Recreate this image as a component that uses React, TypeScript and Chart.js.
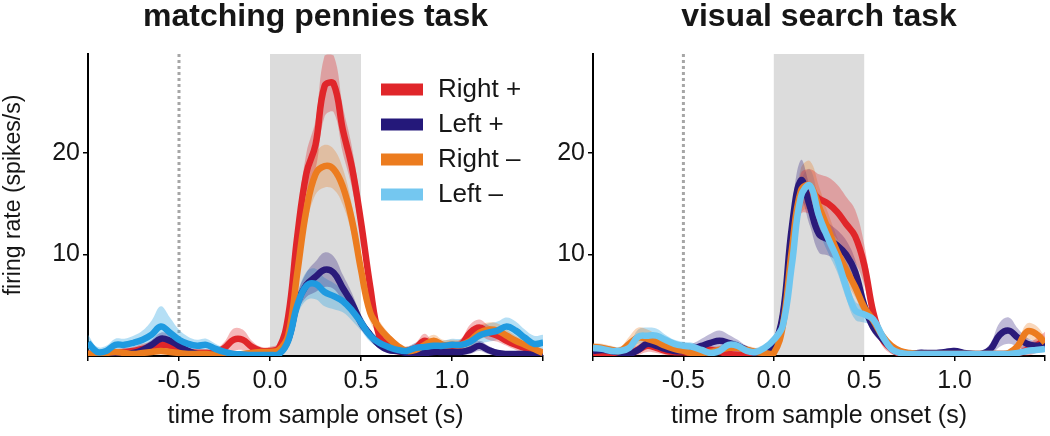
import { useEffect, useRef } from 'react';
import { Chart, registerables } from 'chart.js';

Chart.register(...registerables);

// ---------- data ----------
const TIME = [
  -1.0, -0.95, -0.9, -0.85, -0.8, -0.75, -0.7, -0.65, -0.6, -0.55,
  -0.5, -0.45, -0.4, -0.35, -0.3, -0.25, -0.2, -0.15, -0.1, -0.05,
  0.0, 0.05, 0.1, 0.15, 0.2, 0.25, 0.3, 0.35, 0.4, 0.45,
  0.5, 0.55, 0.6, 0.65, 0.7, 0.75, 0.8, 0.85, 0.9, 0.95,
  1.0, 1.05, 1.1, 1.15, 1.2, 1.25, 1.3, 1.35, 1.4, 1.45,
  1.5,
];

const SERIES_NAMES = ['Right +', 'Left +', 'Right \u2013', 'Left \u2013'];

// matching pennies task
const MP_RIGHT_PLUS = [
  0.2, 0.2, 0.2, 0.3, 0.4, 0.5, 0.7, 0.9, 1.1, 1.0,
  0.6, 0.4, 0.3, 0.3, 0.3, 0.8, 1.6, 1.6, 0.9, 0.5,
  0.5, 0.8, 3.9, 11.8, 18.0, 20.8, 26.6, 26.8, 22.3, 18.6,
  13.2, 6.9, 2.0, 1.0, 0.5, 0.5, 0.8, 1.5, 0.8, 0.8,
  0.8, 1.1, 2.3, 2.8, 2.3, 2.0, 1.5, 1.1, 0.8, 0.5,
  0.3,
];
const MP_RIGHT_PLUS_SEM = [
  0.4, 0.4, 0.4, 0.4, 0.4, 0.4, 0.5, 0.5, 0.6, 0.6,
  0.5, 0.4, 0.4, 0.4, 0.4, 0.6, 1.1, 1.0, 0.6, 0.4,
  0.4, 0.5, 1.0, 1.6, 2.0, 2.4, 3.0, 2.8, 2.3, 2.0,
  1.6, 1.2, 0.8, 0.5, 0.4, 0.4, 0.5, 0.7, 0.5, 0.5,
  0.5, 0.6, 0.8, 0.8, 0.7, 0.6, 0.5, 0.5, 0.4, 0.4,
  0.4,
];
const MP_LEFT_PLUS = [
  0.2, 0.1, 0.1, 0.2, 0.2, 0.3, 0.6, 1.1, 1.7, 1.5,
  1.0, 0.5, 0.2, 0.15, 0.1, 0.1, 0.1, 0.1, 0.1, 0.1,
  0.1, 0.3, 1.6, 5.2, 7.0, 7.8, 8.5, 8.2, 6.7, 5.2,
  3.3, 2.1, 1.1, 0.6, 0.5, 0.3, 0.3, 0.3, 0.4, 0.4,
  0.4, 0.4, 0.6, 1.0, 0.6, 0.3, 0.2, 0.2, 0.2, 0.1,
  0.1,
];
const MP_LEFT_PLUS_SEM = [
  0.3, 0.3, 0.3, 0.3, 0.3, 0.3, 0.4, 0.5, 0.6, 0.6,
  0.5, 0.4, 0.3, 0.3, 0.3, 0.3, 0.3, 0.3, 0.3, 0.3,
  0.3, 0.3, 0.6, 0.9, 1.2, 1.5, 1.7, 1.6, 1.3, 1.0,
  0.7, 0.5, 0.4, 0.3, 0.3, 0.3, 0.3, 0.3, 0.3, 0.3,
  0.3, 0.3, 0.4, 0.5, 0.4, 0.3, 0.3, 0.3, 0.3, 0.3,
  0.3,
];
const MP_RIGHT_MINUS = [
  0.2, 0.2, 0.3, 0.4, 0.3, 0.2, 0.3, 0.4, 0.5, 0.4,
  0.3, 0.2, 0.2, 0.2, 0.1, 0.1, 0.1, 0.2, 0.3, 0.4,
  0.4, 0.6, 2.0, 8.2, 14.4, 17.9, 18.7, 18.4, 16.7, 13.4,
  8.5, 4.3, 2.8, 1.8, 1.0, 0.5, 0.6, 1.1, 1.5, 1.1,
  1.1, 1.1, 1.5, 2.3, 2.6, 2.5, 2.0, 1.5, 1.1, 0.7,
  0.3,
];
const MP_RIGHT_MINUS_SEM = [
  0.3, 0.3, 0.3, 0.3, 0.3, 0.3, 0.3, 0.3, 0.3, 0.3,
  0.3, 0.3, 0.3, 0.3, 0.3, 0.3, 0.3, 0.3, 0.3, 0.3,
  0.3, 0.3, 0.7, 1.2, 1.6, 2.0, 2.1, 2.0, 1.8, 1.5,
  1.2, 0.9, 0.7, 0.5, 0.4, 0.4, 0.4, 0.5, 0.6, 0.5,
  0.5, 0.5, 0.6, 0.7, 0.7, 0.7, 0.6, 0.5, 0.5, 0.4,
  0.4,
];
const MP_LEFT_MINUS = [
  1.3, 0.4, 0.5, 1.1, 1.1, 1.3, 1.6, 2.1, 2.9, 2.3,
  1.6, 1.2, 1.0, 1.1, 0.7, 0.4, 0.2, 0.15, 0.1, 0.1,
  0.1, 0.2, 1.5, 5.0, 6.9, 7.1, 6.3, 5.9, 5.4, 4.5,
  3.3, 2.0, 1.3, 0.9, 0.6, 0.5, 0.8, 0.9, 1.0, 1.0,
  1.1, 1.1, 1.4, 2.0, 2.3, 2.5, 2.9, 2.5, 1.8, 1.2,
  1.3,
];
const MP_LEFT_MINUS_SEM = [
  0.8, 0.5, 0.5, 0.6, 0.6, 0.7, 0.9, 1.4, 2.0, 1.5,
  1.0, 0.7, 0.6, 0.6, 0.5, 0.4, 0.3, 0.3, 0.3, 0.3,
  0.3, 0.3, 0.7, 1.0, 1.4, 1.5, 1.4, 1.3, 1.1, 1.0,
  0.8, 0.6, 0.5, 0.4, 0.4, 0.4, 0.5, 0.5, 0.5, 0.5,
  0.6, 0.6, 0.7, 0.8, 0.9, 0.9, 0.9, 0.9, 0.8, 0.8,
  0.8,
];

// visual search task
const VS_RIGHT_PLUS = [
  0.2, 0.3, 0.3, 0.2, 0.3, 0.6, 1.0, 0.8, 0.5, 0.4,
  0.4, 0.3, 0.6, 0.6, 0.4, 0.2, 0.1, 0.1, 0.1, 0.2,
  0.5, 3.8, 11.0, 16.0, 16.2, 15.5, 15.0, 14.2, 13.0, 11.8,
  9.0, 4.3, 1.7, 0.7, 0.2, 0.2, 0.2, 0.2, 0.2, 0.2,
  0.2, 0.2, 0.2, 0.2, 0.2, 0.2, 0.2, 0.3, 0.6, 1.0,
  1.6,
];
const VS_RIGHT_PLUS_SEM = [
  0.4, 0.4, 0.4, 0.4, 0.4, 0.5, 0.6, 0.5, 0.4, 0.4,
  0.4, 0.4, 0.4, 0.4, 0.4, 0.4, 0.4, 0.4, 0.4, 0.4,
  0.5, 1.0, 1.5, 2.0, 2.2, 2.4, 2.6, 2.7, 2.7, 2.6,
  2.0, 1.2, 0.7, 0.5, 0.3, 0.3, 0.3, 0.3, 0.3, 0.3,
  0.3, 0.3, 0.3, 0.3, 0.3, 0.3, 0.3, 0.4, 0.6, 0.7,
  0.8,
];
const VS_LEFT_PLUS = [
  0.5, 0.6, 0.5, 0.3, 0.2, 0.6, 1.2, 1.0, 0.7, 0.5,
  0.5, 0.7, 1.0, 1.3, 1.5, 1.3, 1.0, 0.6, 0.3, 0.4,
  1.0, 4.1, 12.7, 17.3, 14.7, 12.0, 11.5, 10.9, 10.0, 8.3,
  5.0, 2.8, 1.7, 0.8, 0.3, 0.2, 0.3, 0.3, 0.3, 0.4,
  0.5, 0.3, 0.2, 0.2, 0.7, 2.1, 2.5, 1.8, 1.2, 1.0,
  1.2,
];
const VS_LEFT_PLUS_SEM = [
  0.4, 0.4, 0.4, 0.4, 0.4, 0.4, 0.4, 0.4, 0.4, 0.4,
  0.4, 0.5, 0.7, 0.9, 1.0, 0.8, 0.6, 0.4, 0.4, 0.4,
  0.5, 1.0, 1.6, 2.0, 1.9, 1.8, 1.6, 1.5, 1.4, 1.2,
  0.9, 0.6, 0.4, 0.3, 0.3, 0.3, 0.3, 0.3, 0.3, 0.3,
  0.3, 0.3, 0.3, 0.3, 0.6, 1.2, 1.3, 0.9, 0.6, 0.5,
  0.5,
];
const VS_RIGHT_MINUS = [
  0.9, 0.8, 0.6, 0.5, 1.2, 1.8, 1.7, 1.4, 1.0, 0.7,
  0.5, 0.3, 0.3, 0.4, 0.6, 0.8, 0.8, 0.6, 0.4, 0.3,
  0.3, 3.0, 10.5, 16.3, 16.8, 14.7, 12.5, 10.3, 8.5, 6.8,
  4.8, 3.5, 2.0, 1.0, 0.5, 0.3, 0.2, 0.2, 0.2, 0.2,
  0.2, 0.2, 0.2, 0.2, 0.2, 0.2, 0.3, 1.0, 2.4, 2.2,
  1.3,
];
const VS_RIGHT_MINUS_SEM = [
  0.4, 0.4, 0.4, 0.4, 0.7, 1.0, 0.9, 0.7, 0.5, 0.4,
  0.4, 0.4, 0.4, 0.4, 0.4, 0.4, 0.4, 0.4, 0.4, 0.4,
  0.4, 1.0, 1.6, 2.2, 2.4, 2.0, 1.6, 1.4, 1.2, 1.0,
  0.8, 0.6, 0.4, 0.3, 0.3, 0.3, 0.3, 0.3, 0.3, 0.3,
  0.3, 0.3, 0.3, 0.3, 0.3, 0.3, 0.3, 0.5, 0.8, 0.8,
  0.6,
];
const VS_LEFT_MINUS = [
  0.8, 0.7, 0.5, 0.5, 0.8, 1.9, 2.0, 2.0, 1.6, 1.2,
  1.0, 0.9, 0.6, 0.3, 0.5, 1.1, 1.0, 0.5, 0.4, 0.8,
  1.6, 3.0, 9.0, 15.7, 16.8, 13.8, 11.6, 9.6, 6.8, 4.5,
  4.1, 3.6, 2.0, 0.7, 0.3, 0.2, 0.2, 0.2, 0.2, 0.2,
  0.2, 0.2, 0.2, 0.2, 0.2, 0.2, 0.2, 0.3, 0.5, 0.6,
  0.7,
];
const VS_LEFT_MINUS_SEM = [
  0.4, 0.4, 0.4, 0.4, 0.4, 0.7, 0.8, 0.7, 0.5, 0.4,
  0.4, 0.4, 0.4, 0.4, 0.4, 0.4, 0.4, 0.4, 0.4, 0.4,
  0.4, 0.8, 1.2, 1.5, 1.6, 1.5, 1.4, 1.3, 1.1, 0.9,
  0.8, 0.6, 0.4, 0.3, 0.3, 0.3, 0.3, 0.3, 0.3, 0.3,
  0.3, 0.3, 0.3, 0.3, 0.3, 0.3, 0.3, 0.3, 0.3, 0.3,
  0.3,
];

const X_TICKS = [-1, -0.5, 0, 0.5, 1, 1.5];
const X_TICK_LABELS = ['', '-0.5', '0.0', '0.5', '1.0', ''];
const Y_TICKS = [10, 20];
const Y_TICK_LABELS = ['10', '20'];
const STIM_WINDOW = [0, 0.5];
const CUE_TIME = -0.5;

// ---------- style ----------
const FONT = '"Liberation Sans", Arial, Helvetica, sans-serif';
const LINE_COLORS_MP = ['#e0262a', '#2a1a7a', '#ec7c1f', '#1f9ae0'];
const LINE_COLORS_VS = ['#e0262a', '#2a1a7a', '#ec7c1f', '#6ec6f0'];
const BAND_COLORS = [
  'rgba(224,38,42,0.33)',
  'rgba(42,26,122,0.30)',
  'rgba(236,124,31,0.30)',
  'rgba(60,170,230,0.38)',
];
const LEGEND_COLORS = ['#e0262a', '#24187a', '#ec7c1f', '#74c7f0'];
const LINE_ORDER = [3, 2, 1, 0]; // lower order drawn on top

function buildDatasets(means: number[][], sems: number[][], lineColors: string[]) {
  const bands: any[] = [];
  const lines: any[] = [];
  means.forEach((m, k) => {
    const lower = TIME.map((t, i) => ({ x: t, y: Math.max(0, m[i] - sems[k][i]) }));
    const upper = TIME.map((t, i) => ({ x: t, y: m[i] + sems[k][i] }));
    bands.push({
      data: lower, borderWidth: 0, pointRadius: 0, fill: false, order: 20 + k, tension: 0.4,
    });
    bands.push({
      data: upper, borderWidth: 0, pointRadius: 0, fill: '-1', backgroundColor: BAND_COLORS[k],
      order: 20 + k, tension: 0.4,
    });
    lines.push({
      label: SERIES_NAMES[k],
      data: TIME.map((t, i) => ({ x: t, y: m[i] })),
      borderColor: lineColors[k], borderWidth: 6.5, pointRadius: 0, fill: false,
      order: LINE_ORDER[k], tension: 0.4,
    });
  });
  return [...bands, ...lines];
}

const bgPlugin = {
  id: 'stimBg',
  beforeDraw(chart: any) {
    const { ctx, chartArea, scales } = chart;
    const x = scales.x;
    ctx.save();
    const x0 = x.getPixelForValue(STIM_WINDOW[0]);
    const x1 = x.getPixelForValue(STIM_WINDOW[1]);
    ctx.fillStyle = '#dcdcdc';
    ctx.fillRect(x0, chartArea.top, x1 - x0, chartArea.bottom - chartArea.top - 1);
    const xd = x.getPixelForValue(CUE_TIME);
    ctx.strokeStyle = '#a6a6a6';
    ctx.lineWidth = 3;
    ctx.setLineDash([3, 3]);
    ctx.beginPath();
    ctx.moveTo(xd, chartArea.top);
    ctx.lineTo(xd, chartArea.bottom - 1);
    ctx.stroke();
    ctx.restore();
  },
};

function makeOverlay(title: string, yTitle: string | null, legend: boolean) {
  return {
    id: 'overlay',
    afterDraw(chart: any) {
      const { ctx, chartArea } = chart;
      ctx.save();
      ctx.fillStyle = '#161616';
      ctx.font = `bold 32px ${FONT}`;
      ctx.textAlign = 'center';
      ctx.textBaseline = 'alphabetic';
      ctx.fillText(title, (chartArea.left + chartArea.right) / 2, 26);
      if (yTitle) {
        ctx.save();
        ctx.translate(19.5, 195);
        ctx.rotate(-Math.PI / 2);
        ctx.font = `23px ${FONT}`;
        ctx.textAlign = 'center';
        ctx.textBaseline = 'alphabetic';
        ctx.fillText(yTitle, 0, 0);
        ctx.restore();
      }
      if (legend) {
        const lx = chartArea.left + 293;
        SERIES_NAMES.forEach((name, k) => {
          const top = chartArea.top + 29.5 + 35 * k;
          ctx.fillStyle = LEGEND_COLORS[k];
          ctx.fillRect(lx, top, 42, 12);
          ctx.fillStyle = '#161616';
          ctx.font = `26px ${FONT}`;
          ctx.textAlign = 'left';
          ctx.textBaseline = 'alphabetic';
          ctx.fillText(name, lx + 57, top + 13);
        });
      }
      ctx.restore();
    },
  };
}

function makeConfig(
  means: number[][], sems: number[][], lineColors: string[],
  yWidth: number, padRight: number, title: string, yTitle: string | null, legend: boolean,
): any {
  return {
    type: 'line',
    data: { datasets: buildDatasets(means, sems, lineColors) },
    options: {
      animation: false,
      responsive: false,
      maintainAspectRatio: false,
      layout: { padding: { top: 54, right: padRight, left: 0, bottom: 0 }, autoPadding: false },
      plugins: { legend: { display: false }, tooltip: { enabled: false }, title: { display: false } },
      scales: {
        x: {
          type: 'linear', min: -1, max: 1.5,
          afterBuildTicks: (s: any) => { s.ticks = X_TICKS.map((v) => ({ value: v })); },
          afterFit: (s: any) => { s.height = 80; },
          ticks: {
            callback: (_v: any, i: number) => X_TICK_LABELS[i],
            font: { size: 25, family: FONT }, color: '#161616', padding: 5,
            maxRotation: 0, autoSkip: false,
          },
          grid: { drawOnChartArea: false, drawTicks: true, tickLength: 5, color: '#000', lineWidth: 1.5 },
          border: { display: true, color: '#000', width: 2 },
          title: {
            display: true, text: 'time from sample onset (s)', color: '#161616',
            font: { size: 25, family: FONT }, padding: { top: 0, bottom: 5 },
          },
        },
        y: {
          type: 'linear', min: 0, max: 29.75,
          afterBuildTicks: (s: any) => { s.ticks = Y_TICKS.map((v) => ({ value: v })); },
          afterFit: (s: any) => { s.width = yWidth; },
          ticks: {
            callback: (_v: any, i: number) => Y_TICK_LABELS[i],
            font: { size: 25, family: FONT }, color: '#161616', padding: 3,
          },
          grid: { drawOnChartArea: false, drawTicks: true, tickLength: 5, color: '#000', lineWidth: 1.5 },
          border: { display: true, color: '#000', width: 2 },
        },
      },
    },
    plugins: [bgPlugin, makeOverlay(title, yTitle, legend)],
  };
}

export default function App() {
  const leftRef = useRef<HTMLCanvasElement>(null);
  const rightRef = useRef<HTMLCanvasElement>(null);

  useEffect(() => {
    const left = new Chart(
      leftRef.current as HTMLCanvasElement,
      makeConfig(
        [MP_RIGHT_PLUS, MP_LEFT_PLUS, MP_RIGHT_MINUS, MP_LEFT_MINUS],
        [MP_RIGHT_PLUS_SEM, MP_LEFT_PLUS_SEM, MP_RIGHT_MINUS_SEM, MP_LEFT_MINUS_SEM],
        LINE_COLORS_MP, 88, 560 - 543, 'matching pennies task', 'firing rate (spikes/s)', true,
      ),
    );
    const right = new Chart(
      rightRef.current as HTMLCanvasElement,
      makeConfig(
        [VS_RIGHT_PLUS, VS_LEFT_PLUS, VS_RIGHT_MINUS, VS_LEFT_MINUS],
        [VS_RIGHT_PLUS_SEM, VS_LEFT_PLUS_SEM, VS_RIGHT_MINUS_SEM, VS_LEFT_MINUS_SEM],
        LINE_COLORS_VS, 53, 2, 'visual search task', null, false,
      ),
    );
    return () => {
      left.destroy();
      right.destroy();
    };
  }, []);

  return (
    <div style={{ position: 'fixed', left: 0, top: 0, width: 1050, height: 436, background: '#fff' }}>
      <canvas
        ref={leftRef}
        width={560}
        height={436}
        style={{ position: 'absolute', left: 0, top: 0, width: 560, height: 436 }}
      />
      <canvas
        ref={rightRef}
        width={510}
        height={436}
        style={{ position: 'absolute', left: 540, top: 0, width: 510, height: 436 }}
      />
    </div>
  );
}
